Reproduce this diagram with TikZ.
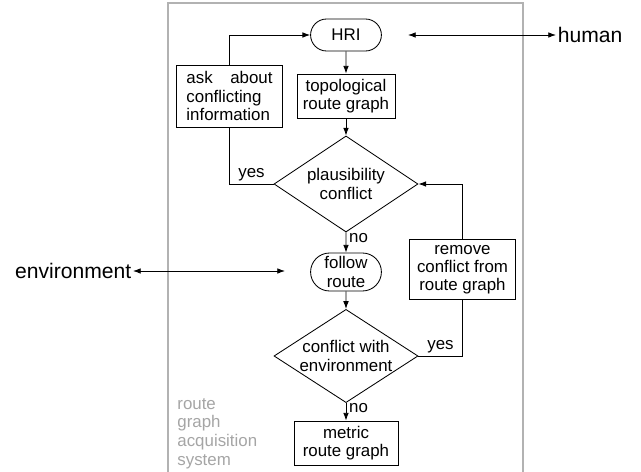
\documentclass[tikz,border=0pt]{standalone}
\usepackage{fontspec}
\setmainfont{Liberation Sans}
\usepackage{tikz}
\usetikzlibrary{shapes,arrows.meta,positioning,calc}
\definecolor{framegray}{RGB}{178,178,178}
\definecolor{notegray}{RGB}{165,165,165}

\begin{document}
\begin{tikzpicture}[
    x=0.025cm, y=-0.025cm,
    >={Latex[length=5.5pt,width=4pt]}, line width=0.6pt,
    process/.style={rectangle, draw, fill=white, inner sep=0pt, align=center, minimum width=#1, minimum height=1.1cm, font=\fontsize{12}{13}\selectfont},
    terminal/.style={rounded rectangle, draw, fill=white, inner sep=0pt, align=center, minimum width=1.77cm, minimum height=#1, font=\fontsize{12}{13}\selectfont},
    decision/.style={diamond, draw, fill=white, inner sep=0pt, aspect=1.5, align=center, minimum width=3.6cm, minimum height=#1, font=\fontsize{12}{13}\selectfont},
    outer/.style={font=\fontsize{15}{17}\selectfont, inner sep=1pt},
    tag/.style={font=\fontsize{12}{13}\selectfont, inner sep=2pt},
    arrow/.style={->}
]
\useasboundingbox (0,0) rectangle (641,472);

% System frame (open at the bottom)
\draw[framegray, line width=0.9pt] (168,480) -- (168,3) -- (523,3) -- (523,480);
\node[tag, notegray, anchor=north west, align=left, inner sep=0pt,
      font=\fontsize{12}{13.2}\selectfont] (syslabel) at (177,398) {route\\graph\\acquisition\\system};

% Main column
\node[terminal=0.8cm] (hri) at (346,35) {HRI};
\node[process=2.45cm] (topo) at (346,96) {topological\\route graph};
\node[decision=2.4cm] (plaus) at (346,184) {plausibility\\conflict};
\node[terminal=0.95cm] (follow) at (346,272) {follow\\route};
\node[decision=2.33cm] (conf) at (346,356) {conflict with\\environment};
\node[process=2.6cm] (metric) at (346,443) {metric\\route graph};

% Side boxes
\node[process=2.63cm, minimum height=1.55cm, text width=2.15cm, align=justify] (ask) at (229.5,96) {ask about conflicting information};
\node[process=2.63cm, minimum height=1.52cm] (remove) at (462.5,269.5) {remove\\conflict from\\route graph};

% Flow
\draw[arrow] (hri) -- (topo);
\draw[arrow] (topo) -- (plaus);
\draw[arrow] (plaus) -- node[tag, pos=0.3, right] {no} (follow);
\draw[arrow] (follow) -- (conf);
\draw[arrow] (conf) -- node[tag, pos=0.3, right] {no} (metric);

% Loops back
\draw (plaus.west) -- node[tag, above] {yes} (plaus.west -| ask.south) -- (ask.south);
\draw[arrow] (ask.north) |- (hri.west);
\draw (conf.east) -- node[tag, above] {yes} (conf.east -| remove.south) -- (remove.south);
\draw[arrow] (remove.north) |- (plaus.east);

% Outside world
\node[outer, anchor=west] (human) at (556,35) {human};
\coordinate (hriside) at (408,35);
\draw[<->] (hriside) -- (human.west);
\node[outer, anchor=east] (env) at (133,271) {environment};
\coordinate (followside) at (285,271);
\draw[<->] (env.east) -- (followside);

\end{tikzpicture}
\end{document}
